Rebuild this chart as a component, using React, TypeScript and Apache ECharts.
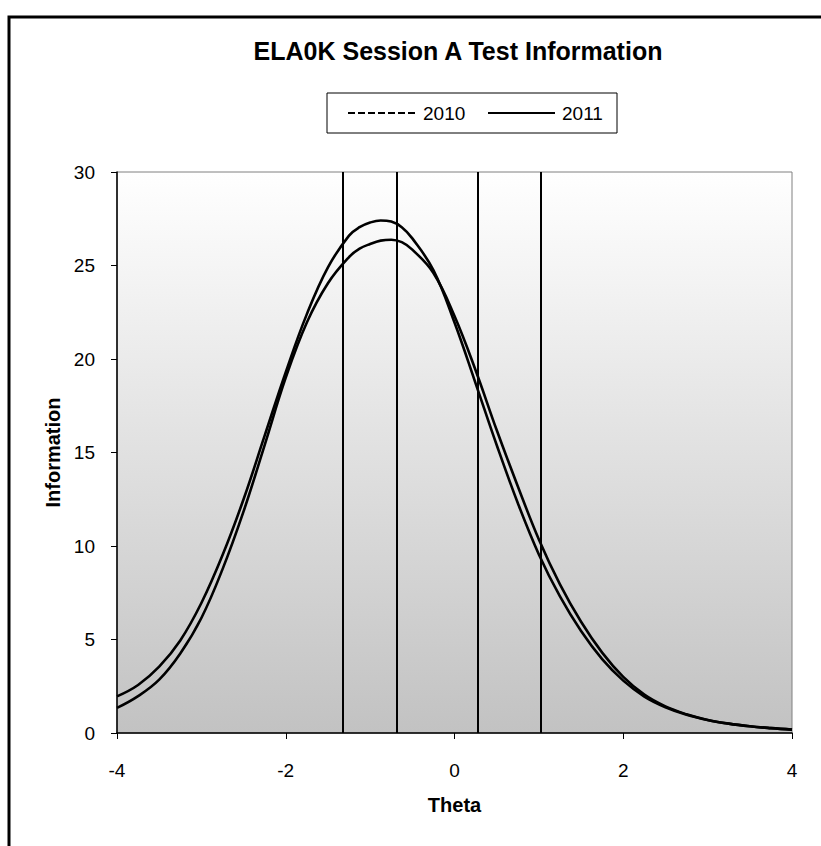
import React, { useEffect, useRef } from "react";
import * as echarts from "echarts";

const theta = [-4, -3.75, -3.5, -3.25, -3, -2.75, -2.5, -2.25, -2, -1.75, -1.5, -1.25, -1.125, -1, -0.875, -0.75, -0.625, -0.5, -0.25, 0, 0.25, 0.5, 0.75, 1, 1.25, 1.5, 1.75, 2, 2.25, 2.5, 2.75, 3, 3.25, 3.5, 3.75, 4];
const info2011 = [1.96, 2.57, 3.55, 4.95, 6.95, 9.5, 12.5, 15.9, 19.3, 22.4, 24.9, 26.6, 27.05, 27.3, 27.41, 27.35, 27.05, 26.45, 24.75, 21.95, 18.7, 15.4, 12.3, 9.55, 7.3, 5.45, 3.95, 2.8, 1.95, 1.38, 0.98, 0.7, 0.5, 0.36, 0.26, 0.18];
const info2010 = [1.34, 1.97, 2.85, 4.25, 6.15, 8.75, 11.85, 15.4, 19.0, 21.95, 24.05, 25.45, 25.9, 26.15, 26.33, 26.38, 26.25, 25.85, 24.6, 22.3, 19.4, 16.2, 13.2, 10.35, 7.95, 5.95, 4.3, 3.0, 2.05, 1.42, 1.0, 0.7, 0.5, 0.36, 0.26, 0.18];
const cutScores = [-1.32, -0.69, 0.28, 1.02];
const xTicks = { min: -4, max: 4, interval: 2 };
const yTicks = { min: 0, max: 30, interval: 5 };
const titleText = "ELA0K Session A Test Information";
const seriesNames = ["2010", "2011"];

const FONT = "Arial, 'Liberation Sans', sans-serif";

export default function App() {
  const ref = useRef<HTMLDivElement>(null);
  useEffect(() => {
    if (!ref.current) return;
    const chart = echarts.init(ref.current, null, { renderer: "svg" });
    const lineStyle = { color: "#000", width: 2.6 };
    chart.setOption({
      animation: false,
      backgroundColor: "#fff",
      grid: {
        show: true,
        left: 117,
        top: 172,
        right: 29,
        bottom: 113,
        backgroundColor: new echarts.graphic.LinearGradient(0, 0, 0, 1, [
          { offset: 0, color: "#ffffff" },
          { offset: 1, color: "#c2c2c2" },
        ]),
        borderColor: "#808080",
        borderWidth: 1,
      },
      xAxis: {
        type: "value",
        min: xTicks.min,
        max: xTicks.max,
        interval: xTicks.interval,
        name: "Theta",
        nameLocation: "middle",
        nameGap: 62,
        nameTextStyle: { fontFamily: FONT, fontSize: 20, fontWeight: "bold", color: "#000" },
        axisLine: { onZero: false, lineStyle: { color: "#000", width: 1.5 } },
        axisTick: { show: true, inside: false, length: 6, lineStyle: { color: "#000" } },
        axisLabel: { fontFamily: FONT, fontSize: 19, color: "#000", margin: 28 },
        splitLine: { show: false },
      },
      yAxis: {
        type: "value",
        min: yTicks.min,
        max: yTicks.max,
        interval: yTicks.interval,
        name: "Information",
        nameLocation: "middle",
        nameGap: 52,
        nameRotate: 90,
        nameTextStyle: { fontFamily: FONT, fontSize: 20, fontWeight: "bold", color: "#000" },
        axisLine: { show: true, onZero: false, lineStyle: { color: "#000", width: 1.5 } },
        axisTick: { show: true, inside: false, length: 6, lineStyle: { color: "#000" } },
        axisLabel: { fontFamily: FONT, fontSize: 19, color: "#000", margin: 22 },
        splitLine: { show: false },
      },
      series: [
        {
          name: seriesNames[0],
          type: "line",
          smooth: 0.4,
          showSymbol: false,
          lineStyle,
          data: theta.map((t, i) => [t, info2010[i]]),
          z: 3,
        },
        {
          name: seriesNames[1],
          type: "line",
          smooth: 0.4,
          showSymbol: false,
          lineStyle,
          data: theta.map((t, i) => [t, info2011[i]]),
          z: 3,
          markLine: {
            silent: true,
            symbol: ["none", "none"],
            label: { show: false },
            lineStyle: { color: "#000", width: 2, type: "solid" },
            data: cutScores.map((c) => ({ xAxis: c })),
          },
        },
      ],
      graphic: [
        {
          type: "rect",
          shape: { x: 9, y: 17, width: 900, height: 900 },
          style: { fill: "none", stroke: "#000", lineWidth: 3 },
          z: -1,
        },
        {
          type: "text",
          x: 458,
          y: 51,
          style: {
            text: titleText,
            fontFamily: FONT,
            fontSize: 25,
            fontWeight: "bold",
            fill: "#000",
            textAlign: "center",
            textVerticalAlign: "middle",
          },
        },
        {
          type: "group",
          children: [
            {
              type: "rect",
              shape: { x: 327, y: 93, width: 290, height: 40 },
              style: { fill: "#fff", stroke: "#000", lineWidth: 1 },
            },
            {
              type: "line",
              shape: { x1: 348, y1: 113, x2: 416, y2: 113 },
              style: { stroke: "#000", lineWidth: 2, lineDash: [7, 3] },
            },
            {
              type: "text",
              x: 423,
              y: 113,
              style: { text: seriesNames[0], fontFamily: FONT, fontSize: 19, fill: "#000", textVerticalAlign: "middle" },
            },
            {
              type: "line",
              shape: { x1: 488, y1: 113, x2: 555, y2: 113 },
              style: { stroke: "#000", lineWidth: 2 },
            },
            {
              type: "text",
              x: 562,
              y: 113,
              style: { text: seriesNames[1], fontFamily: FONT, fontSize: 19, fill: "#000", textVerticalAlign: "middle" },
            },
          ],
        },
      ],
    });
    return () => chart.dispose();
  }, []);
  return (
    <div
      ref={ref}
      style={{ position: "fixed", left: 0, top: 0, width: 821, height: 846 }}
    />
  );
}
